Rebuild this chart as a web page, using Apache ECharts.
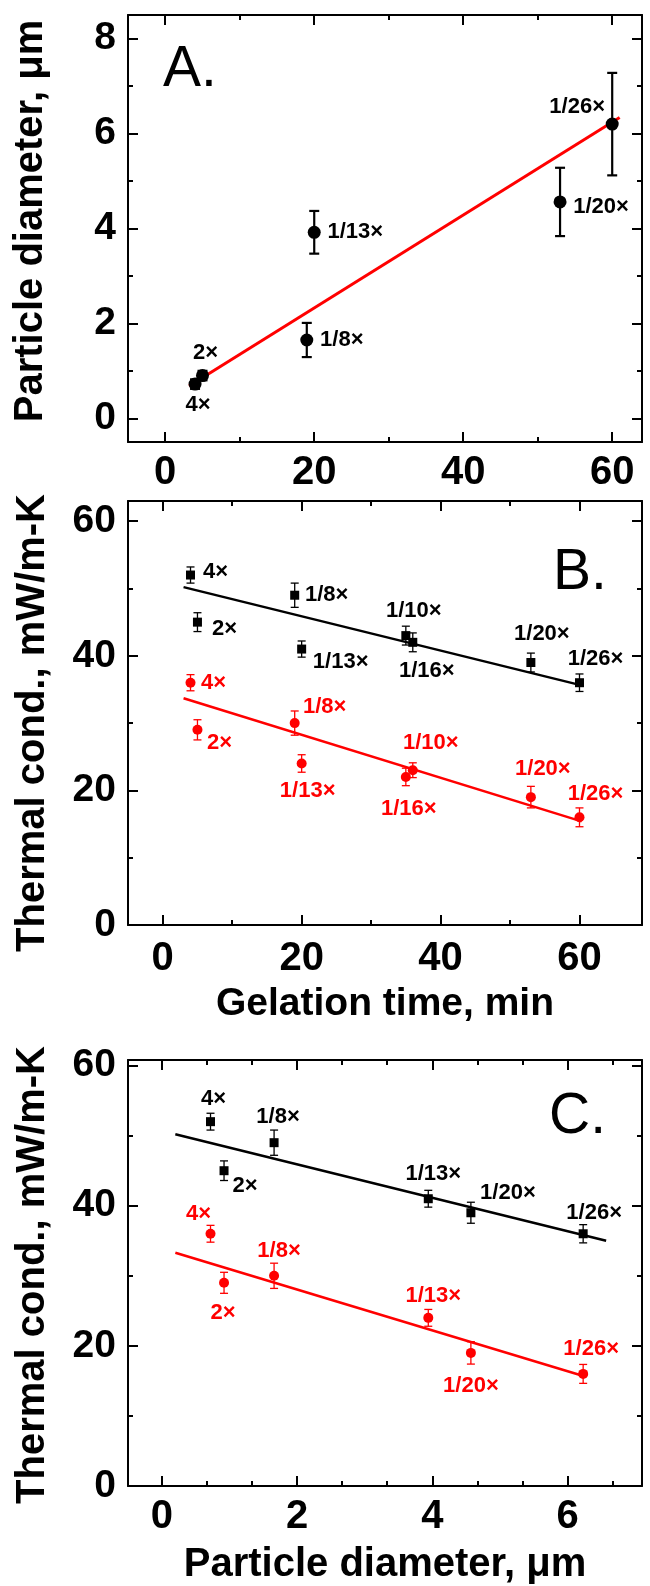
<!DOCTYPE html>
<html><head><meta charset="utf-8">
<script src="https://cdn.jsdelivr.net/npm/echarts@6/dist/echarts.min.js"></script>
<style>html,body{margin:0;padding:0;background:#fff}#c{width:650px;height:1586px}</style>
</head><body><div id="c"></div>
<script>
// ---------- Panel A data ----------
const labelsA = ['4×', '2×', '1/8×', '1/13×', '1/20×', '1/26×'];
const gelTimeA = [4, 5, 19, 20, 53, 60];
const diamA = [0.72, 0.90, 1.65, 3.92, 4.56, 6.20];
const diamErrA = [0.10, 0.10, 0.36, 0.45, 0.72, 1.08];
const fitA = [[3.2, 0.68], [61, 6.34]];

// ---------- Panel B data ----------
const labelsB = ['4×', '2×', '1/8×', '1/13×', '1/10×', '1/16×', '1/20×', '1/26×'];
const gelTimeB = [4, 5, 19, 20, 35, 36, 53, 60];
const tcBlackB = [52, 45, 49, 41, 43, 42, 39, 36];
const tcBlackErrB = [1.2, 1.4, 1.8, 1.2, 1.4, 1.4, 1.4, 1.3];
const tcRedB = [36, 29, 30, 24, 22, 23, 19, 16];
const tcRedErrB = [1.2, 1.5, 1.8, 1.3, 1.3, 1.1, 1.6, 1.4];
const fitBlackB = [[3, 50.2], [60.3, 35.6]];
const fitRedB = [[3, 33.7], [60.3, 15.4]];

// ---------- Panel C data ----------
const labelsC = ['4×', '2×', '1/8×', '1/13×', '1/20×', '1/26×'];
const diamC = [0.72, 0.92, 1.66, 3.94, 4.57, 6.23];
const tcBlackC = [52, 45, 49, 41, 39, 36];
const tcBlackErrC = [1.2, 1.4, 1.8, 1.2, 1.5, 1.3];
const tcRedC = [36, 29, 30, 24, 19, 16];
const tcRedErrC = [1.2, 1.5, 1.8, 1.2, 1.6, 1.35];
const fitBlackC = [[0.2, 50.2], [6.57, 35.0]];
const fitRedC = [[0.2, 33.3], [6.27, 15.6]];

// ---------- tick values ----------
const xMajorA = [0, 20, 40, 60], xMinorA = [10, 30, 50];
const yMajorA = [0, 2, 4, 6, 8], yMinorA = [1, 3, 5, 7];
const xMajorB = [0, 20, 40, 60], xMinorB = [10, 30, 50];
const yMajorB = [0, 20, 40, 60], yMinorB = [10, 30, 50];
const xMajorC = [0, 2, 4, 6], xMinorC = [0.667, 1.333, 2.667, 3.333, 4.667, 5.333, 6.667];
const yMajorC = [0, 20, 40, 60], yMinorC = [10, 30, 50];

// ---------- axis titles ----------
const yTitleA = 'Particle diameter, μm';
const yTitleB = 'Thermal cond., mW/m-K';
const yTitleC = 'Thermal cond., mW/m-K';
const xTitleB = 'Gelation time, min';
const xTitleC = 'Particle diameter, μm';

// ---------- label placement (pixel offsets, layout only) ----------
const offA = [[3, 21], [3, -23], [35, 0], [41, 0], [41, 5], [-35, -17]];
const offBk = [[25, -3], [27, 7], [32, 0], [39, 13], [8, -25], [14, 29], [11, -29], [16, -24]];
const offBr = [[23, 0], [22, 13], [30, -16], [6, 27], [25, -34], [-4, 39], [12, -28], [16, -23]];
const offCk = [[3, -23], [21, 15], [4, -26], [5, -25], [37, -20], [11, -21]];
const offCr = [[-12, -20], [-1, 30], [5, -25], [5, -22], [0, 33], [8, -25]];

const FONT = '"Liberation Sans", Arial, Helvetica, sans-serif';
const RED = '#ff0000', BLACK = '#000000';

const grids = [
  { left: 128, right: 8, top: 15, height: 427, outerBoundsMode: 'none' },
  { left: 128, right: 8, top: 501, height: 424, outerBoundsMode: 'none' },
  { left: 128, right: 8, top: 1060, height: 426, outerBoundsMode: 'none' }
];

const xAxes = [], yAxes = [];
function tick(len, vals) {
  return { show: true, inside: true, length: len, customValues: vals, lineStyle: { color: BLACK, width: 2 } };
}
function addAxes(g, xr, yr, xMaj, xMin, yMaj, yMin, o) {
  const base = { type: 'value', gridIndex: g, splitLine: { show: false } };
  const line = { show: true, onZero: false, lineStyle: { color: BLACK, width: 2 } };
  const noLine = { show: false, onZero: false };
  const xi = xAxes.length, yi = yAxes.length;
  const xs = { min: xr[0], max: xr[1] }, ys = { min: yr[0], max: yr[1] };
  xAxes.push(Object.assign({}, base, xs, {
    position: 'bottom', axisLine: line, axisTick: tick(10, xMaj),
    axisLabel: { show: true, customValues: xMaj, margin: o.xLabelMargin, fontSize: 40, fontWeight: 'bold', color: BLACK, fontFamily: FONT },
    name: o.xName, nameLocation: 'middle', nameGap: o.xNameGap, nameMoveOverlap: false,
    nameTruncate: { maxWidth: 2000 },
    nameTextStyle: { fontSize: o.xNameSize, fontWeight: 'bold', color: BLACK, fontFamily: FONT }
  }));
  xAxes.push(Object.assign({}, base, xs, { position: 'bottom', axisLine: noLine, axisTick: tick(5, xMin), axisLabel: { show: false } }));
  xAxes.push(Object.assign({}, base, xs, { position: 'top', axisLine: line, axisTick: tick(10, xMaj), axisLabel: { show: false } }));
  xAxes.push(Object.assign({}, base, xs, { position: 'top', axisLine: noLine, axisTick: tick(5, xMin), axisLabel: { show: false } }));
  yAxes.push(Object.assign({}, base, ys, {
    position: 'left', axisLine: line, axisTick: tick(10, yMaj),
    axisLabel: { show: true, customValues: yMaj, margin: 12, fontSize: 39, fontWeight: 'bold', color: BLACK, fontFamily: FONT }
  }));
  yAxes.push(Object.assign({}, base, ys, { position: 'left', axisLine: noLine, axisTick: tick(5, yMin), axisLabel: { show: false } }));
  yAxes.push(Object.assign({}, base, ys, { position: 'right', axisLine: line, axisTick: tick(10, yMaj), axisLabel: { show: false } }));
  yAxes.push(Object.assign({}, base, ys, { position: 'right', axisLine: noLine, axisTick: tick(5, yMin), axisLabel: { show: false } }));
  return { xi, yi };
}

const axA = addAxes(0, [-5, 64], [-0.5, 8.5], xMajorA, xMinorA, yMajorA, yMinorA,
  { xName: '', xNameGap: 0, xNameSize: 40, xLabelMargin: 11 });
const axB = addAxes(1, [-5, 69], [0, 63], xMajorB, xMinorB, yMajorB, yMinorB,
  { xName: xTitleB, xNameGap: 60, xNameSize: 39, xLabelMargin: 14 });
const axC = addAxes(2, [-0.5, 7.1], [0, 60.8], xMajorC, xMinorC, yMajorC, yMinorC,
  { xName: xTitleC, xNameGap: 59, xNameSize: 40, xLabelMargin: 11 });

function errSeries(ax, xs, ys, es, color, lw, cap) {
  return {
    type: 'custom', xAxisIndex: ax.xi, yAxisIndex: ax.yi, z: 3,
    data: xs.map((x, i) => [x, ys[i], es[i]]),
    encode: { x: 0, y: 1 },
    renderItem: function (params, api) {
      const x = api.value(0), y = api.value(1), e = api.value(2);
      const t = api.coord([x, y + e]), b = api.coord([x, y - e]);
      const st = { stroke: color, lineWidth: lw };
      return { type: 'group', children: [
        { type: 'line', shape: { x1: t[0], y1: t[1], x2: b[0], y2: b[1] }, style: st },
        { type: 'line', shape: { x1: t[0] - cap, y1: t[1], x2: t[0] + cap, y2: t[1] }, style: st },
        { type: 'line', shape: { x1: b[0] - cap, y1: b[1], x2: b[0] + cap, y2: b[1] }, style: st }
      ] };
    }
  };
}
function ptSeries(ax, xs, ys, names, offs, color, symbol, size) {
  return {
    type: 'scatter', xAxisIndex: ax.xi, yAxisIndex: ax.yi, z: 4,
    symbol: symbol, symbolSize: size, itemStyle: { color: color, opacity: 1 },
    data: xs.map((x, i) => ({ value: [x, ys[i]], name: names[i], label: { offset: offs[i] } })),
    label: { show: true, position: 'inside', formatter: '{b}', fontSize: 22, fontWeight: 'bold', color: color, fontFamily: FONT },
    emphasis: { disabled: true }
  };
}
function fitSeries(ax, pts, color, w) {
  return { type: 'line', xAxisIndex: ax.xi, yAxisIndex: ax.yi, z: 2, data: pts, symbol: 'none',
    lineStyle: { color: color, width: w }, silent: true };
}

const series = [
  fitSeries(axA, fitA, RED, 3),
  errSeries(axA, gelTimeA, diamA, diamErrA, BLACK, 2.2, 5),
  ptSeries(axA, gelTimeA, diamA, labelsA, offA, BLACK, 'circle', 13),

  fitSeries(axB, fitBlackB, BLACK, 2.5),
  fitSeries(axB, fitRedB, RED, 2.5),
  errSeries(axB, gelTimeB, tcBlackB, tcBlackErrB, BLACK, 1.3, 4),
  errSeries(axB, gelTimeB, tcRedB, tcRedErrB, RED, 1.3, 4),
  ptSeries(axB, gelTimeB, tcBlackB, labelsB, offBk, BLACK, 'rect', 9),
  ptSeries(axB, gelTimeB, tcRedB, labelsB, offBr, RED, 'circle', 10),

  fitSeries(axC, fitBlackC, BLACK, 2.5),
  fitSeries(axC, fitRedC, RED, 2.5),
  errSeries(axC, diamC, tcBlackC, tcBlackErrC, BLACK, 1.3, 4),
  errSeries(axC, diamC, tcRedC, tcRedErrC, RED, 1.3, 4),
  ptSeries(axC, diamC, tcBlackC, labelsC, offCk, BLACK, 'rect', 9),
  ptSeries(axC, diamC, tcRedC, labelsC, offCr, RED, 'circle', 10)
];

const panelText = (txt, x, y, size) => ({
  type: 'text', left: x, top: y, z: 10,
  style: { text: txt, fontSize: size, fontFamily: FONT, fill: BLACK }
});
const yTitle = (txt, cx, cy) => ({
  type: 'text', x: cx, y: cy, rotation: Math.PI / 2, z: 10,
  style: { text: txt, fontSize: 40, fontWeight: 'bold', fontFamily: FONT, fill: BLACK,
    align: 'center', verticalAlign: 'middle', textAlign: 'center', textVerticalAlign: 'middle' }
});

const chart = echarts.init(document.getElementById('c'), null, { renderer: 'canvas' });
chart.setOption({
  backgroundColor: '#ffffff',
  animation: false,
  grid: grids,
  xAxis: xAxes,
  yAxis: yAxes,
  series: series,
  graphic: [
    panelText('A.', 163, 42, 57),
    panelText('B.', 553, 545, 57),
    panelText('C.', 549, 1089, 57),
    yTitle(yTitleA, 31, 221),
    yTitle(yTitleB, 33, 723),
    yTitle(yTitleC, 33, 1275)
  ]
});
</script></body></html>
